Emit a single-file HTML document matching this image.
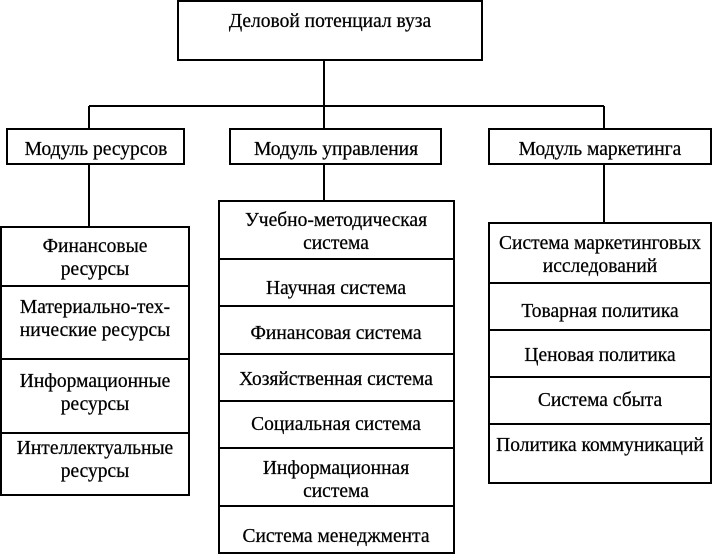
<!DOCTYPE html>
<html><head><meta charset="utf-8"><style>html,body{margin:0;padding:0;background:#fff}svg{display:block}</style></head><body>
<svg width="713" height="554" viewBox="0 0 713 554" xmlns="http://www.w3.org/2000/svg" font-family="Liberation Serif, serif" font-size="19.5" text-anchor="middle" fill="#000">
<g fill="none" stroke="#000" stroke-width="2">
<rect x="178" y="1" width="304" height="59"/>
<line x1="324" y1="60" x2="324" y2="129"/>
<line x1="89" y1="106" x2="604" y2="106"/>
<line x1="89" y1="106" x2="89" y2="129"/>
<line x1="604" y1="106" x2="604" y2="129"/>
<rect x="7" y="129" width="177" height="35"/>
<rect x="230" y="129" width="211" height="35"/>
<rect x="489" y="129" width="222" height="35"/>
<line x1="89" y1="164" x2="89" y2="227"/>
<line x1="324" y1="164" x2="324" y2="201"/>
<line x1="604" y1="164" x2="604" y2="223"/>
<rect x="1" y="227" width="188" height="268"/>
<line x1="1" y1="286" x2="189" y2="286"/>
<line x1="1" y1="359" x2="189" y2="359"/>
<line x1="1" y1="433" x2="189" y2="433"/>
<rect x="219" y="201" width="235" height="352"/>
<line x1="219" y1="259" x2="454" y2="259"/>
<line x1="219" y1="306" x2="454" y2="306"/>
<line x1="219" y1="354" x2="454" y2="354"/>
<line x1="219" y1="401" x2="454" y2="401"/>
<line x1="219" y1="448" x2="454" y2="448"/>
<line x1="219" y1="506" x2="454" y2="506"/>
<rect x="489" y="223" width="222" height="260"/>
<line x1="489" y1="283" x2="711" y2="283"/>
<line x1="489" y1="330" x2="711" y2="330"/>
<line x1="489" y1="377" x2="711" y2="377"/>
<line x1="489" y1="424" x2="711" y2="424"/>
</g>
<g stroke="#000" stroke-width="0.25">
<text x="330" y="27">Деловой потенциал вуза</text>
<text x="96" y="155">Модуль ресурсов</text>
<text x="336" y="155">Модуль управления</text>
<text x="600" y="155">Модуль маркетинга</text>
<text x="95" y="252">Финансовые</text><text x="95" y="275">ресурсы</text>
<text x="95" y="313">Материально-тех-</text><text x="95" y="336">нические ресурсы</text>
<text x="95" y="387">Информационные</text><text x="95" y="410">ресурсы</text>
<text x="95" y="454">Интеллектуальные</text><text x="95" y="477">ресурсы</text>
<text x="336" y="226">Учебно-методическая</text><text x="336" y="249">система</text>
<text x="336" y="294">Научная система</text>
<text x="336" y="339">Финансовая система</text>
<text x="336" y="385">Хозяйственная система</text>
<text x="336" y="430">Социальная система</text>
<text x="336" y="474">Информационная</text><text x="336" y="497">система</text>
<text x="336" y="542">Система менеджмента</text>
<text x="600" y="249">Система маркетинговых</text><text x="600" y="272">исследований</text>
<text x="600" y="317">Товарная политика</text>
<text x="600" y="361">Ценовая политика</text>
<text x="600" y="406">Система сбыта</text>
<text x="600" y="451">Политика коммуникаций</text>
</g>
</svg>
</body></html>
